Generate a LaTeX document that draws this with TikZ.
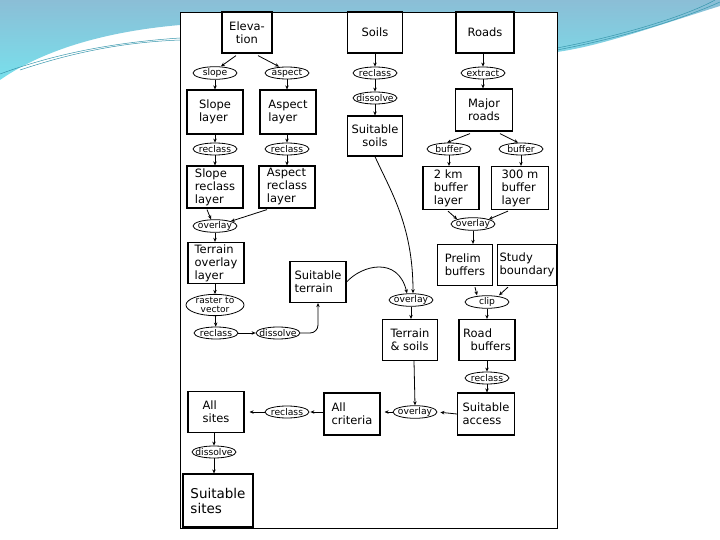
\documentclass[tikz,border=0pt]{standalone}
\usepackage{fontspec}
\setmainfont{DejaVu Sans}
\usetikzlibrary{shapes.geometric, positioning, arrows.meta}
\definecolor{skyA}{RGB}{139,190,214}
\definecolor{skyB}{RGB}{120,224,236}
\definecolor{skyLine}{RGB}{55,150,172}
\tikzset{
    stage/.style = {draw, line width=1.2pt, minimum width=56pt, minimum height=42pt, inner sep=2pt, align=left, font=\fontsize{11.5}{13}\selectfont},
    op/.style = {draw, ellipse, line width=0.8pt, minimum width=44pt, minimum height=12pt, inner xsep=-6pt, inner ysep=0pt, font=\fontsize{9.2}{9}\selectfont},
    flow/.style = {draw, line width=0.8pt, -{Stealth[length=4pt, width=3.5pt]}},
}

\begin{document}
\begin{tikzpicture}[x=1pt, y=-1pt]
        \useasboundingbox (0, 0) rectangle (720, 540);
        % slide background
        \shade[top color=skyA, bottom color=skyB] (0, 0) -- (720, 0) -- (720, 6) .. controls (650, 28) and (600, 46) .. (557, 52) -- (557, 30) -- (180, 25) .. controls (100, 32) and (40, 52) .. (0, 80) -- cycle;
        \draw[skyLine, line width=0.5pt] (0, 74) .. controls (60, 52) and (120, 42) .. (180, 38);
        \draw[skyLine, line width=0.5pt] (20, 70) .. controls (80, 50) and (130, 42) .. (180, 40);
        \draw[skyLine, line width=0.5pt] (557, 50) .. controls (620, 38) and (680, 20) .. (720, 2);
        \draw[skyLine, line width=0.5pt] (557, 48) .. controls (630, 34) and (690, 14) .. (715, 0);
        \draw[fill=white, line width=0.8pt] (180, 12) rectangle (557, 528);

        \node[stage, align=center, minimum width=50pt, minimum height=41pt] (elev) at (247, 32.5) {Eleva-\\tion};
        \node[stage, minimum width=55pt, minimum height=41pt] (soil) at (375, 32.5) {Soils};
        \node[stage, minimum width=58pt, minimum height=41pt] (road) at (485, 32.5) {Roads};

        \node[op] (slope) at (215, 73) {slope};
        \node[op] (aspect) at (287, 73) {aspect};
        \node[op] (soilrc) at (375, 73) {reclass};
        \node[op] (soildis) at (375, 98) {dissolve};
        \node[op] (extract) at (483, 73) {extract};

        \node[stage, minimum height=44pt] (slopelyr) at (215, 112) {Slope\\layer};
        \node[stage, minimum height=44pt] (aspectlyr) at (288, 112) {Aspect\\layer};
        \node[stage, align=center, minimum width=55pt, minimum height=40pt] (suitsoil) at (375, 136) {Suitable\\soils};
        \node[stage, align=center, minimum width=57pt] (major) at (484, 110) {Major\\roads};

        \node[op] (sloperc) at (215, 149) {reclass};
        \node[op] (aspectrc) at (287, 149) {reclass};
        \node[op] (buf2) at (449, 149) {buffer};
        \node[op] (buf300) at (521, 149) {buffer};

        \node[stage] (sloperclyr) at (215, 187) {Slope\\reclass\\layer};
        \node[stage] (aspectrclyr) at (287, 187) {Aspect\\reclass\\layer};
        \node[stage, minimum height=43pt] (buf2lyr) at (451, 188) {2 km\\buffer\\layer};
        \node[stage, minimum width=57pt, minimum height=43pt] (buf300lyr) at (520, 188) {300 m\\buffer\\layer};

        \node[op] (terrov) at (215, 226) {overlay};
        \node[op] (bufov) at (473, 224) {overlay};

        \node[stage, minimum height=40pt] (terrlyr) at (216, 263) {Terrain\\overlay\\layer};
        \node[stage, minimum height=41pt] (suitterr) at (318, 282) {Suitable\\terrain};
        \node[stage, minimum width=55pt, minimum height=41pt] (prelim) at (465, 265) {Prelim\\buffers};
        \node[stage, minimum height=41pt] (study) at (527, 265) {Study\\boundary};

        \node[op, align=center, minimum width=58pt, minimum height=18pt, font=\fontsize{9}{8.6}\selectfont] (r2v) at (215, 305) {raster to\\vector};
        \node[op] (midov) at (411, 300) {overlay};
        \node[op] (clip) at (487, 302) {clip};
        \node[op] (terrrc) at (216, 333) {reclass};
        \node[op] (terrdis) at (278, 333) {dissolve};

        \node[stage, minimum width=55pt, minimum height=41pt] (terrsoil) at (410, 340) {Terrain\\\& soils};
        \node[stage, minimum height=41pt] (roadbuf) at (487, 340) {Road\\\ \ buffers};

        \node[op] (accrc) at (487, 378) {reclass};
        \node[stage, minimum width=57pt] (access) at (486, 414) {Suitable\\access};
        \node[op] (allov) at (415, 412) {overlay};
        \node[stage] (allcrit) at (352, 414) {All\\criteria};
        \node[op] (sitesrc) at (287, 412) {reclass};
        \node[stage, minimum height=41pt] (allsites) at (216, 412) {All\\sites};
        \node[op] (sitesdis) at (214, 452) {dissolve};
        \node[stage, minimum width=70pt, minimum height=53pt, font=\fontsize{13.5}{15}\selectfont] (suitsites) at (218, 500.5) {Suitable\\sites};

        \draw[flow] ([xshift=-11pt, yshift=-2pt]elev.south) -- ([xshift=6pt]slope.north);
        \draw[flow] ([xshift=11pt, yshift=-2pt]elev.south) -- ([xshift=-8pt]aspect.north);
        \draw[flow] (soil) -- (soilrc);
        \draw[flow] (soilrc) -- (soildis);
        \draw[flow] (soildis) -- (suitsoil);
        \draw[flow] (road.south -| extract) -- (extract);
        \draw[flow] (extract) -- (extract |- major.north);
        \draw[flow] (slope) -- (slopelyr);
        \draw[flow] (aspect) -- (aspect |- aspectlyr.north);
        \draw[flow] (slopelyr) -- (sloperc);
        \draw[flow] (aspectlyr.south -| aspectrc) -- (aspectrc);
        \draw[flow] (sloperc) -- (sloperclyr);
        \draw[flow] (aspectrc) -- (aspectrclyr);
        \draw[flow] ([xshift=-14pt, yshift=-2pt]major.south) -- ([xshift=-2pt]buf2.north);
        \draw[flow] ([xshift=16pt, yshift=-2pt]major.south) -- ([xshift=-3pt]buf300.north);
        \draw[flow] (buf2) -- (buf2 |- buf2lyr.north);
        \draw[flow] (buf300) -- (buf300 |- buf300lyr.north);

        \draw[flow] ([xshift=-8pt, yshift=-1pt]sloperclyr.south) -- ([xshift=-4pt]terrov.north);
        \draw[flow] ([xshift=-20pt, yshift=-1pt]aspectrclyr.south) -- (terrov.north east);
        \draw[flow] ([xshift=-3pt, yshift=-1pt]buf2lyr.south) -- (bufov.north west);
        \draw[flow] ([xshift=-12pt, yshift=-1pt]buf300lyr.south) -- (bufov.north east);
        \draw[flow] (terrov) -- (terrov |- terrlyr.north);
        \draw[flow] (bufov) -- (bufov |- prelim.north);
        \draw[flow] ([xshift=10pt, yshift=-1pt]prelim.south) -- ([xshift=-10pt]clip.north);
        \draw[flow] ([xshift=-19pt, yshift=-1pt]study.south) -- ([xshift=12pt]clip.north);
        \draw[flow] (clip) -- (clip |- roadbuf.north);

        \draw[flow] (terrlyr.south -| r2v) -- (r2v);
        \draw[flow] (r2v) -- (terrrc);
        \draw[flow] (terrrc) -- (terrdis);
        \draw[flow, rounded corners=8pt] (terrdis.east) -| (suitterr.south);
        \draw[flow] (suitsoil.south) .. controls (390, 190) and (413, 225) .. ([xshift=2pt]midov.north);
        \draw[flow] (suitterr.east) .. controls (362, 265) and (398, 256) .. ([xshift=-4pt]midov.north);
        \draw[flow] (midov) -- (midov |- terrsoil.north);

        \draw[flow] (roadbuf) -- (accrc);
        \draw[flow] (accrc) -- (accrc |- access.north);
        \draw[flow] ([xshift=4pt]terrsoil.south) -- (allov.north);
        \draw[flow, shorten >=3pt] (access.west) -- (allov.east);
        \draw[flow, shorten >=4pt] (allov.west) -- (allov.west -| allcrit.east);
        \draw[flow, shorten >=1pt] (allcrit.west |- sitesrc) -- (sitesrc.east);
        \draw[flow, shorten >=5pt] (sitesrc.west) -- (sitesrc.west -| allsites.east);
        \draw[flow] (allsites.south -| sitesdis) -- (sitesdis);
        \draw[flow] (sitesdis) -- (sitesdis |- suitsites.north);
    \end{tikzpicture}
\end{document}
